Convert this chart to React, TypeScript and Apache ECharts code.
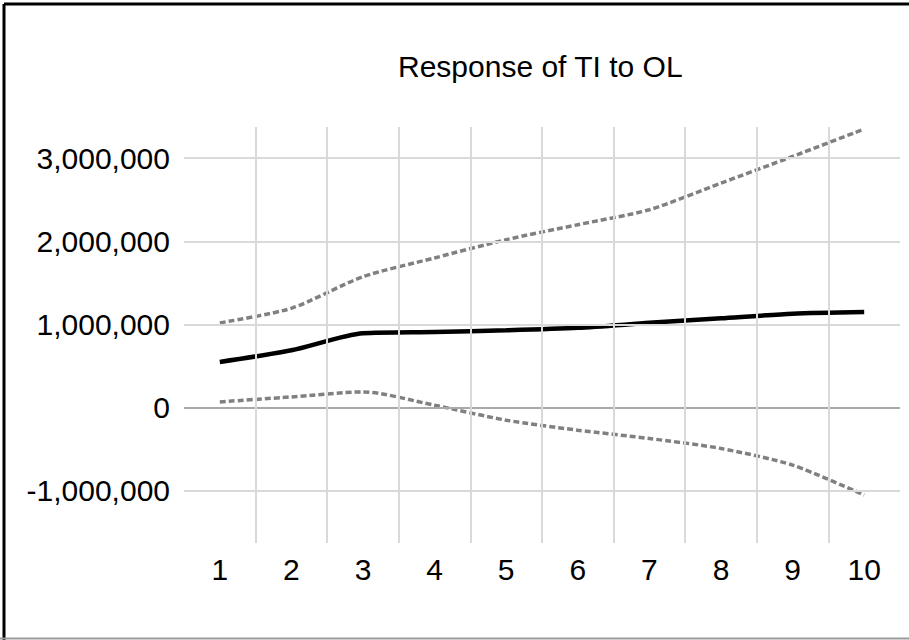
import React, { useEffect, useRef } from "react";
import * as echarts from "echarts";

const titleText = "Response of TI to OL";
const periods = [1, 2, 3, 4, 5, 6, 7, 8, 9, 10];
const responseValues = [550000, 690000, 895000, 910000, 930000, 960000, 1020000, 1075000, 1130000, 1150000];
const upperBand = [1020000, 1195000, 1575000, 1800000, 2020000, 2200000, 2380000, 2700000, 3020000, 3350000];
const lowerBand = [70000, 130000, 190000, 30000, -150000, -270000, -370000, -490000, -690000, -1050000];
const yTickValues = [-1000000, 0, 1000000, 2000000, 3000000];
const xBoundaries = [1.5, 2.5, 3.5, 4.5, 5.5, 6.5, 7.5, 8.5, 9.5];

const FONT = "'Liberation Sans', Arial, sans-serif";

export default function App() {
  const ref = useRef<HTMLDivElement>(null);
  useEffect(() => {
    if (!ref.current) return;
    const chart = echarts.init(ref.current, null, { renderer: "svg" });
    const pairs = (vals: number[]) => periods.map((p, i) => [p, vals[i]]);
    chart.setOption({
      animation: false,
      backgroundColor: "#ffffff",
      title: {
        text: titleText,
        left: 393,
        top: 46,
        textStyle: { fontFamily: FONT, fontSize: 30, fontWeight: "normal", color: "#000" },
      },
      grid: { left: 184, right: 9, top: 127, bottom: 97 },
      xAxis: {
        type: "value",
        min: 0.5,
        max: 10.5,
        axisLine: { show: false },
        axisTick: { show: false },
        splitLine: { show: false },
        axisLabel: {
          customValues: periods,
          margin: 11,
          fontFamily: FONT,
          fontSize: 30,
          color: "#000",
        },
      },
      yAxis: {
        type: "value",
        min: -1626000,
        max: 3374000,
        axisLine: { show: false },
        axisTick: { show: false },
        splitLine: { show: false },
        axisLabel: {
          customValues: yTickValues,
          margin: 14,
          fontFamily: FONT,
          fontSize: 30,
          color: "#000",
          formatter: (v: number) => Math.round(v).toLocaleString("en-US"),
        },
      },
      graphic: [
        { type: "line", shape: { x1: 4, y1: 4, x2: 4, y2: 640 }, style: { stroke: "#000", lineWidth: 3 } },
        { type: "line", shape: { x1: 4, y1: 4, x2: 909, y2: 4 }, style: { stroke: "#000", lineWidth: 3 } },
        { type: "line", shape: { x1: 0, y1: 638.5, x2: 909, y2: 638.5 }, style: { stroke: "#999", lineWidth: 2 } },
      ],
      series: [
        {
          type: "line",
          data: [],
          z: 1,
          silent: true,
          markLine: {
            silent: true,
            symbol: ["none", "none"],
            label: { show: false },
            emphasis: { disabled: true },
            data: [
              ...yTickValues.map((v) => ({
                yAxis: v,
                lineStyle: { color: v === 0 ? "#a9a9a9" : "#d9d9d9", width: 2, type: "solid" },
              })),
              ...xBoundaries.map((v) => ({
                xAxis: v,
                lineStyle: { color: "#d9d9d9", width: 2, type: "solid" },
              })),
            ],
          },
        },
        {
          type: "line",
          data: pairs(upperBand),
          z: 3,
          smooth: 0.25,
          symbol: "none",
          lineStyle: { color: "#808080", width: 3.5, type: [6, 3] },
        },
        {
          type: "line",
          data: pairs(lowerBand),
          z: 3,
          smooth: 0.25,
          symbol: "none",
          lineStyle: { color: "#808080", width: 3.5, type: [6, 3] },
        },
        {
          type: "line",
          data: pairs(responseValues),
          z: 4,
          smooth: 0.25,
          symbol: "none",
          lineStyle: { color: "#000000", width: 4.5 },
        },
      ],
    });
    return () => chart.dispose();
  }, []);
  return (
    <div
      ref={ref}
      style={{ position: "fixed", left: 0, top: 0, width: 909, height: 640 }}
    />
  );
}
